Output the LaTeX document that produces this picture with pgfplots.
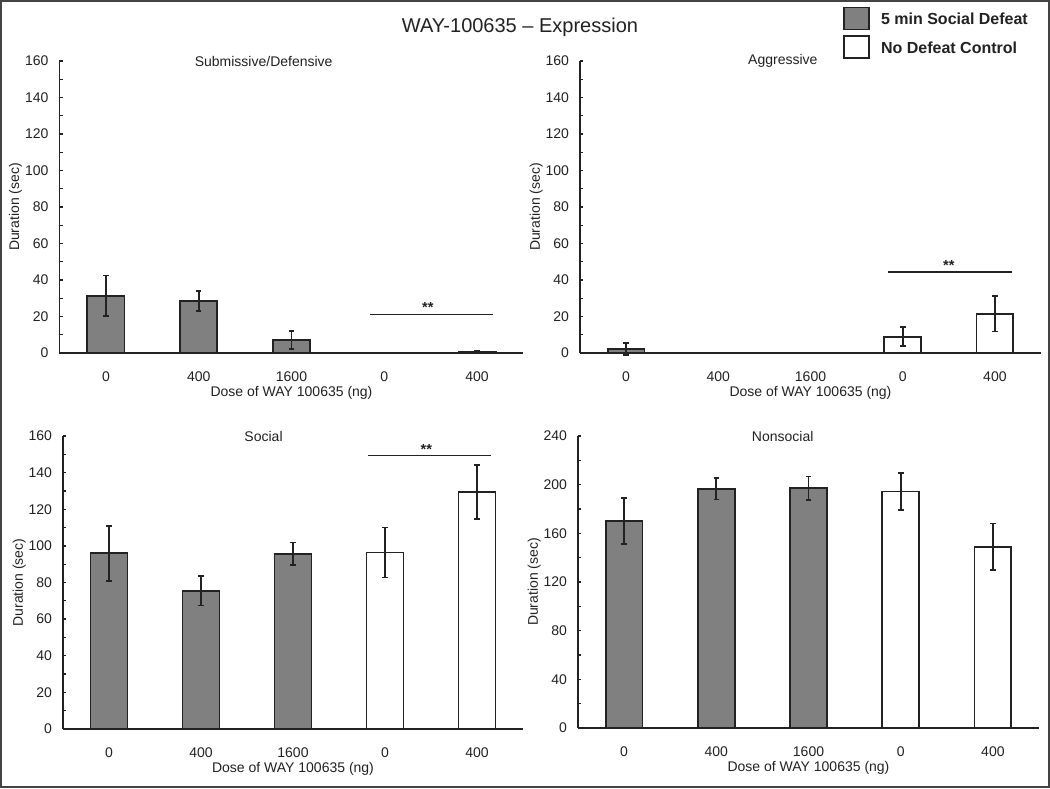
\documentclass[border=0pt]{standalone}
\usepackage{fontspec}
\setmainfont{Liberation Sans}
\usepackage{pgfplots}
\pgfplotsset{compat=1.18}
\definecolor{barg}{RGB}{128,128,128}
\definecolor{ink}{RGB}{34,34,34}
\tikzset{
  ptitle/.style={font=\fontsize{7}{8.4}\selectfont, text=ink},
  stars/.style={font=\bfseries\fontsize{7.3}{8.4}\selectfont, text=ink, anchor=base},
}
\pgfplotsset{
  panel/.style={
    scale only axis, width=231pt, height=146pt, anchor=south west,
    axis lines=left, axis line style={-, ink, line width=0.85pt},
    xmin=-0.5, xmax=4.5, ymin=0,
    xtick={0,1,2,3,4}, xticklabels={0,400,1600,0,400},
    xtick style={draw=none},
    ytick style={ink, line width=0.65pt},
    minor y tick style={ink, line width=0.65pt},
    minor y tick num=1,
    tick align=inside, major tick length=1.7pt, minor tick length=1.7pt,
    tick label style={font=\fontsize{7}{8.4}\selectfont, text=ink},
    xticklabel style={anchor=center, yshift=-10pt, inner sep=0pt},
    yticklabel style={anchor=east, xshift=-5.3pt, inner sep=0pt},
    /pgf/number format/assume math mode=true,
    label style={font=\fontsize{7}{8.4}\selectfont, text=ink},
    xlabel={Dose of WAY 100635 (ng)},
    ylabel={Duration (sec)},
    xlabel style={at={(axis description cs:0.5,0)}, anchor=center, yshift=-20pt},
    ylabel style={at={(axis description cs:-0.095,0.5)}, anchor=center},
    ybar, bar width=0.4, bar shift=0pt,
    clip=false,
  },
  barbase/.style={draw=ink, line width=0.85pt,
    error bars/y dir=both, error bars/y explicit,
    error bars/error bar style={ink, line width=0.85pt},
    error bars/error mark options={rotate=90, ink, line width=0.85pt, mark size=1.4pt}},
  gbar/.style={barbase, fill=barg},
  wbar/.style={barbase, fill=white},
  boxlegend/.style={legend image code/.code={\draw[##1] (0pt,-5.5pt) rectangle (12.5pt,5.5pt);}},
  sig/.style={ink, line width=0.75pt, no marks, forget plot, sharp plot},
}
\begin{document}
\begin{tikzpicture}
\useasboundingbox (0,0) rectangle (525pt,394pt);
\fill[white] (0,0) rectangle (525pt,394pt);
\draw[ink!85, line width=1.2pt] (0.6pt,0.6pt) rectangle (524.4pt,393.4pt);
\node[font=\fontsize{10}{12}\selectfont, text=ink, anchor=base] at (260pt,377.5pt) {WAY-100635 – Expression};

% Top-left: Submissive/Defensive
\begin{axis}[panel, at={(29.75pt,217.5pt)}, width=232pt, ymax=160, ytick={0,20,...,160}]
\addplot[gbar] coordinates {(0,31.3) +- (0,11.2) (1,28.5) +- (0,5.5) (2,7.1) +- (0,5.0)};
\addplot[wbar] coordinates {(4,0.8) +- (0,0.6)};
\addplot[sig] coordinates {(2.85,21) (4.17,21)};
\node[stars, yshift=1pt] at (axis cs:3.47,21) {**};
\node[ptitle] at (axis cs:1.7,160) {Submissive/Defensive};
\end{axis}

% Top-right: Aggressive
\begin{axis}[panel, at={(290pt,217.5pt)}, width=230.5pt, ymax=160, ytick={0,20,...,160},
  legend style={at={(0.5705,1.188)}, anchor=north west, draw=none, fill=none,
    inner xsep=0pt, inner ysep=0pt, row sep=2.6pt, column sep=5.5pt,
    font=\bfseries\fontsize{8}{9.6}\selectfont, text=ink,
    nodes={inner sep=0pt, text depth=0pt}, cells={anchor=west}},
  legend cell align=left]
\addplot[gbar, boxlegend] coordinates {(0,2.2) +- (0,3.3)};
\addlegendentry{5 min Social Defeat}
\addplot[wbar, boxlegend] coordinates {(3,8.9) +- (0,5.2) (4,21.4) +- (0,9.7)};
\addlegendentry{No Defeat Control}
\addplot[sig] coordinates {(2.84,44.3) (4.18,44.3)};
\node[stars, yshift=0.6pt] at (axis cs:3.5,44.3) {**};
\node[ptitle] at (axis cs:1.7,160) {Aggressive};
\end{axis}

% Bottom-left: Social
\begin{axis}[panel, at={(31.5pt,29.5pt)}, width=230pt, height=146.5pt, ymax=160, ytick={0,20,...,160}]
\addplot[gbar] coordinates {(0,96.0) +- (0,15.0) (1,75.4) +- (0,8.0) (2,95.7) +- (0,6.2)};
\addplot[wbar] coordinates {(3,96.4) +- (0,13.7) (4,129.4) +- (0,14.7)};
\addplot[sig] coordinates {(2.82,149.4) (4.15,149.4)};
\node[stars, yshift=0.6pt] at (axis cs:3.45,149.4) {**};
\node[ptitle] at (axis cs:1.68,160) {Social};
\end{axis}

% Bottom-right: Nonsocial
\begin{axis}[panel, at={(289pt,30pt)}, width=230.5pt, height=146pt, ymax=240, ytick={0,40,...,240}]
\addplot[gbar] coordinates {(0,170.3) +- (0,19.0) (1,196.6) +- (0,8.8) (2,197.1) +- (0,9.5)};
\addplot[wbar] coordinates {(3,194.4) +- (0,15.0) (4,149.0) +- (0,19.0)};
\node[ptitle] at (axis cs:1.72,240) {Nonsocial};
\end{axis}
\end{tikzpicture}
\end{document}
